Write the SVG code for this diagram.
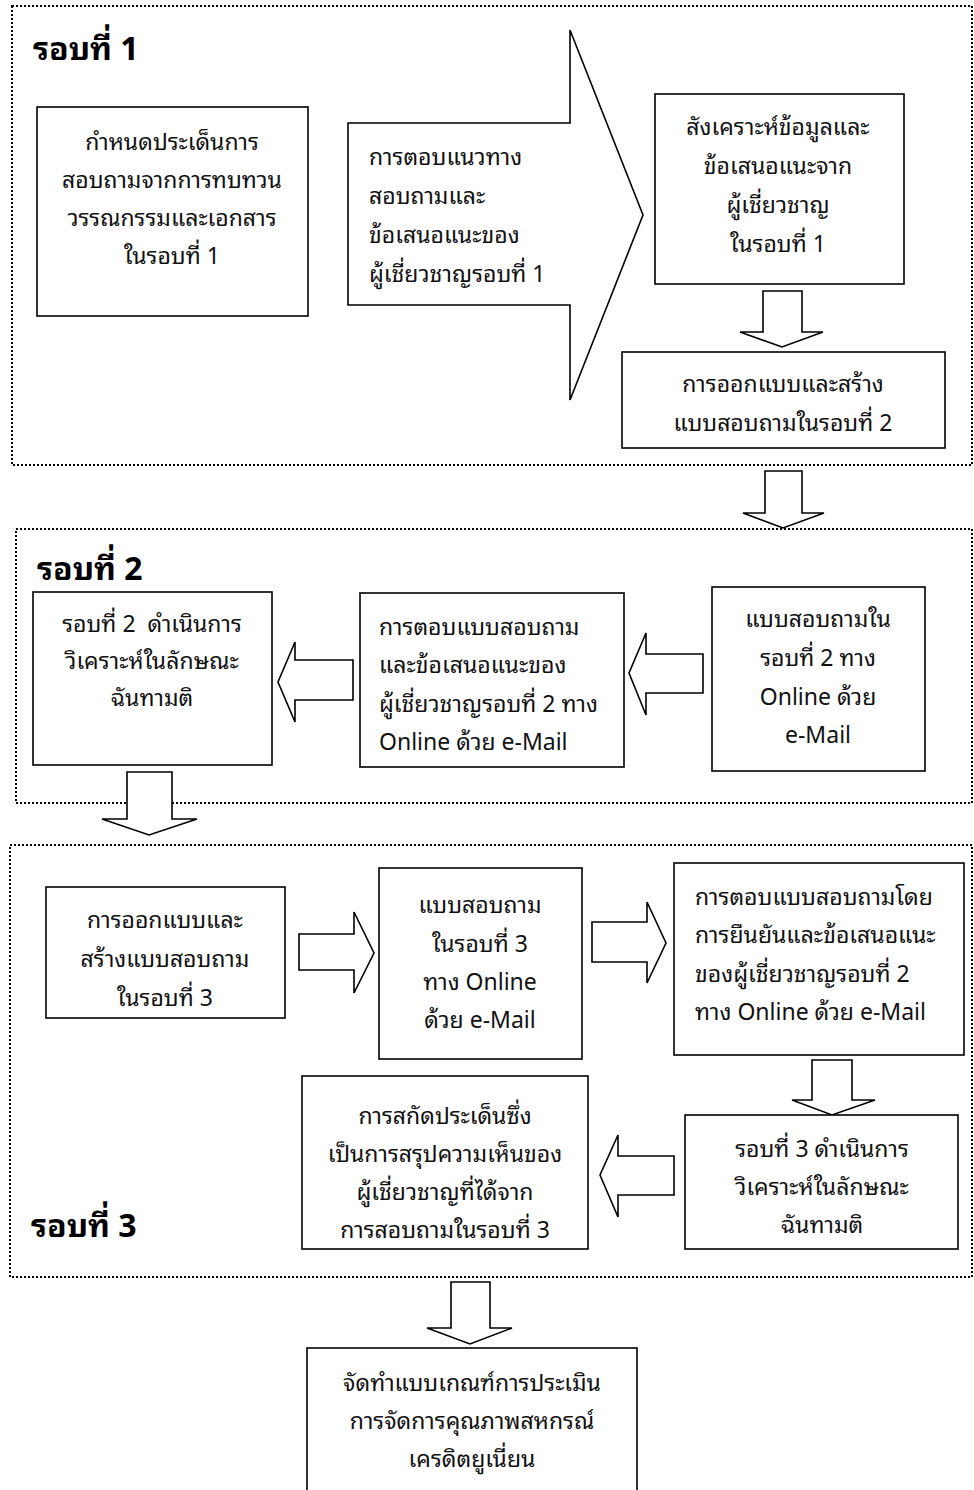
<svg xmlns="http://www.w3.org/2000/svg" width="974" height="1490" viewBox="0 0 974 1490">
<style>
.sec{fill:none;stroke:#000;stroke-width:2;stroke-dasharray:2 2}
.box{fill:#fff;stroke:#000;stroke-width:1.6}
.arr{fill:#fff;stroke:#000;stroke-width:1.6;stroke-linejoin:miter}
.t{font-family:"Noto Sans Thai Looped","Noto Sans Thai","Leelawadee UI",Tahoma,"Noto Sans",sans-serif;font-size:23px;fill:#111}
.c{text-anchor:middle}
.h{font-family:"Noto Sans Thai Looped","Noto Sans Thai","Leelawadee UI",Tahoma,"Noto Sans",sans-serif;font-size:32px;font-weight:bold;fill:#000}
</style>
<rect width="974" height="1490" fill="#fff"/>
<g id="sections">
<rect class="sec" x="12" y="6" width="960" height="459"/>
<rect class="sec" x="16" y="529" width="956" height="274"/>
<rect class="sec" x="10" y="845" width="962" height="432"/>
<text class="h" x="33" y="60">รอบที่ 1</text>
<text class="h" x="37" y="580">รอบที่ 2</text>
<text class="h" x="31" y="1237">รอบที่ 3</text>
</g>
<g id="connectors">
<polygon class="arr" points="763,291 802,291 802,332 823,332 782,347 740,332 763,332"/>
<polygon class="arr" points="765,471 802,471 802,513 824,513 783,528 743,513 765,513"/>
<polygon class="arr" points="353,660 295,660 295,642 278,682 295,722 295,700 353,700"/>
<polygon class="arr" points="703,654 646,654 646,633 629,673 646,715 646,693 703,693"/>
<polygon class="arr" points="127,772 172,772 172,819 197,819 149,835 102,819 127,819"/>
<polygon class="arr" points="299,934 354,934 354,912 374,953 354,993 354,970 299,970"/>
<polygon class="arr" points="592,922 647,922 647,902 666,943 647,983 647,962 592,962"/>
<polygon class="arr" points="812,1060 852,1060 852,1100 875,1100 832,1115 792,1100 812,1100"/>
<polygon class="arr" points="674,1156 618,1156 618,1135 600,1175 618,1217 618,1195 674,1195"/>
<polygon class="arr" points="451,1282 490,1282 490,1328 512,1328 470,1344 427,1328 451,1328"/>
</g>
<g id="n1">
<rect class="box" x="37" y="107" width="271" height="209"/>
<text class="t c" x="172" y="150">กำหนดประเด็นการ</text>
<text class="t c" x="172" y="188">สอบถามจากการทบทวน</text>
<text class="t c" x="172" y="226">วรรณกรรมและเอกสาร</text>
<text class="t c" x="172" y="264">ในรอบที่ 1</text>
</g>
<g id="n2">
<polygon class="arr" points="348,123 570,123 570,30 643,215 570,400 570,305 348,305"/>
<text class="t" x="369" y="165">การตอบแนวทาง</text>
<text class="t" x="369" y="204">สอบถามและ</text>
<text class="t" x="369" y="243">ข้อเสนอแนะของ</text>
<text class="t" x="369" y="282">ผู้เชี่ยวชาญรอบที่ 1</text>
</g>
<g id="n3">
<rect class="box" x="655" y="94" width="249" height="190"/>
<text class="t c" x="778" y="135">สังเคราะห์ข้อมูลและ</text>
<text class="t c" x="778" y="174">ข้อเสนอแนะจาก</text>
<text class="t c" x="778" y="213">ผู้เชี่ยวชาญ</text>
<text class="t c" x="778" y="252">ในรอบที่ 1</text>
</g>
<g id="n4">
<rect class="box" x="622" y="352" width="323" height="96"/>
<text class="t c" x="783" y="392">การออกแบบและสร้าง</text>
<text class="t c" x="783" y="431">แบบสอบถามในรอบที่ 2</text>
</g>
<g id="n5">
<rect class="box" x="33" y="592" width="239" height="173"/>
<text class="t c" x="152" y="632" xml:space="preserve">รอบที่ 2  ดำเนินการ</text>
<text class="t c" x="152" y="669">วิเคราะห์ในลักษณะ</text>
<text class="t c" x="152" y="706">ฉันทามติ</text>
</g>
<g id="n6">
<rect class="box" x="360" y="593" width="264" height="174"/>
<text class="t" x="379" y="635">การตอบแบบสอบถาม</text>
<text class="t" x="379" y="673">และข้อเสนอแนะของ</text>
<text class="t" x="379" y="712">ผู้เชี่ยวชาญรอบที่ 2 ทาง</text>
<text class="t" x="379" y="750">Online ด้วย e-Mail</text>
</g>
<g id="n7">
<rect class="box" x="712" y="587" width="213" height="184"/>
<text class="t c" x="818" y="627">แบบสอบถามใน</text>
<text class="t c" x="818" y="666">รอบที่ 2 ทาง</text>
<text class="t c" x="818" y="705">Online ด้วย</text>
<text class="t c" x="818" y="743">e-Mail</text>
</g>
<g id="n8">
<rect class="box" x="46" y="887" width="239" height="131"/>
<text class="t c" x="165" y="928">การออกแบบและ</text>
<text class="t c" x="165" y="967">สร้างแบบสอบถาม</text>
<text class="t c" x="165" y="1006">ในรอบที่ 3</text>
</g>
<g id="n9">
<rect class="box" x="379" y="868" width="203" height="191"/>
<text class="t c" x="480" y="913">แบบสอบถาม</text>
<text class="t c" x="480" y="952">ในรอบที่ 3</text>
<text class="t c" x="480" y="990">ทาง Online</text>
<text class="t c" x="480" y="1028">ด้วย e-Mail</text>
</g>
<g id="n10">
<rect class="box" x="674" y="863" width="290" height="192"/>
<text class="t" x="695" y="905">การตอบแบบสอบถามโดย</text>
<text class="t" x="695" y="943">การยืนยันและข้อเสนอแนะ</text>
<text class="t" x="695" y="982">ของผู้เชี่ยวชาญรอบที่ 2</text>
<text class="t" x="695" y="1020">ทาง Online ด้วย e-Mail</text>
</g>
<g id="n11">
<rect class="box" x="685" y="1115" width="273" height="134"/>
<text class="t c" x="822" y="1157">รอบที่ 3 ดำเนินการ</text>
<text class="t c" x="822" y="1195">วิเคราะห์ในลักษณะ</text>
<text class="t c" x="822" y="1233">ฉันทามติ</text>
</g>
<g id="n12">
<rect class="box" x="302" y="1076" width="286" height="173"/>
<text class="t c" x="445" y="1124">การสกัดประเด็นซึ่ง</text>
<text class="t c" x="445" y="1162">เป็นการสรุปความเห็นของ</text>
<text class="t c" x="445" y="1200">ผู้เชี่ยวชาญที่ได้จาก</text>
<text class="t c" x="445" y="1238">การสอบถามในรอบที่ 3</text>
</g>
<g id="n13">
<rect class="box" x="307" y="1348" width="330" height="160"/>
<text class="t c" x="472" y="1391">จัดทำแบบเกณฑ์การประเมิน</text>
<text class="t c" x="472" y="1429">การจัดการคุณภาพสหกรณ์</text>
<text class="t c" x="472" y="1467">เครดิตยูเนี่ยน</text>
</g>
</svg>
